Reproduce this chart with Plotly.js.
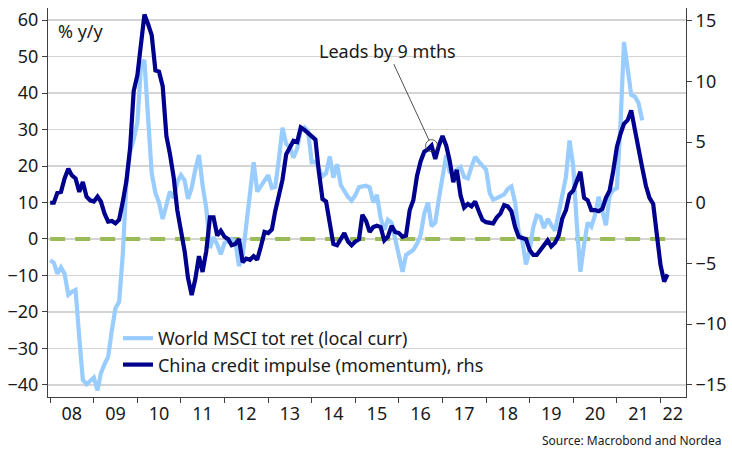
<!DOCTYPE html>
<html>
<head>
<meta charset="utf-8">
<script src="https://cdn.plot.ly/plotly-3.0.1.min.js"></script>
<style>
html,body{margin:0;padding:0;background:#fff;}
#chart{width:732px;height:463px;}
</style>
</head>
<body>
<div id="chart"></div>
<script>
// ---- data (monthly) ----
const worldStart = '2008-01';
const chinaStart = '2008-01';

// World MSCI tot ret (local curr), % y/y, lhs
const worldMsci = [
 -5.8, -6.5, -9.5, -7.8, -9.5, -15.3, -14.5, -14, -27, -38.6,
 -39.8, -39, -38, -41.5, -36.8, -34.3, -32.3, -25, -19, -17.2,
 -4, 15.3, 24, 27.3, 32, 48, 49, 33, 18, 12.6,
 10, 5.5, 9.5, 13, 11.2, 15.6, 17.5, 16, 11, 14,
 19, 23, 14.8, 8.5, -2.5, 0.5, -1.5, -4.2, -1.1, -0.6,
 0, -0.8, -7.4, -4.7, 4, 13.5, 21, 13, 14.6, 16.1,
 17.5, 14, 14.3, 22, 30.5, 26, 25.2, 22.3, 24.8, 29.8,
 30.6, 29.5, 21, 21.2, 19, 17.2, 18, 22.6, 16.8, 20.5,
 14.8, 13, 11.5, 10.5, 12, 14.2, 14.4, 14.6, 14.1, 10,
 12.1, 5.8, 2.5, 5.3, 4.5, 0.2, -5.3, -9, -4.4, -3.8,
 -3, -1.3, 1, 7, 10, 3.5, 4.5, 11, 18, 23,
 18.5, 18.2, 19, 19.7, 17, 16.6, 19.8, 22.5, 21.2, 20,
 19, 12.5, 10.8, 11.2, 11.7, 12.2, 13.7, 14.4, 10, 1.9,
 -0.5, -7, -3, 3.3, 6.4, 6, 3, 5.5, 3.8, 2.3,
 7, 12.6, 17, 27, 20, 3.5, -9, -1.5, 4.5, 3.4,
 6.5, 11.6, 7, 3.8, 12, 13.4, 14, 32, 54, 47,
 39.5, 39, 37.3, 32.5
];

// China credit impulse (momentum), rhs
const chinaImpulse = [
 0.0, 0.0, 0.8, 0.9, 2.0, 2.8, 2.25, 2.0, 0.9, 1.7,
 0.5, 0.2, 0.1, 0.5, 0.1, -0.9, -1.55, -1.5, -1.7, -1.4,
 0.1, 1.8, 4.5, 9.2, 10.5, 13.5, 15.5, 14.7, 13.8, 10.9,
 10.8, 9.6, 5.5, 4.0, 2.1, -0.6, -2.2, -4.0, -6.2, -7.6,
 -6.3, -4.4, -5.7, -4.0, -1.2, -1.2, -2.7, -2.3, -2.8, -3.0,
 -3.5, -3.4, -3.0, -4.9, -4.6, -4.7, -4.4, -4.7, -3.6, -2.4,
 -2.5, -2.2, -0.7, 0.8, 1.9, 4.0, 4.5, 5.1, 5.0, 6.2,
 6.0, 5.7, 5.5, 5.2, 2.6, 0.3, 0.1, -1.7, -3.4, -3.5,
 -2.9, -2.5, -3.2, -3.5, -3.2, -3.0, -1.0, -1.5, -2.4, -2.0,
 -1.9, -2.0, -3.1, -2.8, -1.9, -2.4, -2.5, -2.8, -2.7, -0.6,
 0.2, 2.2, 3.4, 4.2, 4.4, 4.7, 3.6, 4.7, 5.5, 4.7,
 3.5, 1.7, 2.7, 0.6, -0.4, -0.1, -0.3, 0.1, -0.7, -1.4,
 -1.6, -1.7, -1.7, -1.2, -0.9, -0.2, -0.3, -0.7, -2.0, -2.8,
 -2.9, -3.0, -3.9, -4.3, -4.3, -3.9, -3.4, -3.1, -3.6, -3.3,
 -2.7, -1.3, -0.6, 0.7, 1.0, 1.9, 2.55, 0.4, 0.2, -0.6,
 -0.6, -0.7, -0.5, 0.4, 1.0, 2.6, 4.6, 5.7, 6.5, 6.8,
 7.6, 6.0, 4.3, 2.9, 1.4, 0.4, -0.1, -2.6, -5.1, -6.5,
 -5.9
];

const yearLabels = ['08','09','10','11','12','13','14','15','16','17','18','19','20','21','22'];
const leftTicks = [-40, -30, -20, -10, 0, 10, 20, 30, 40, 50, 60];
const rightTicks = [-15, -10, -5, 0, 5, 10, 15];
const leadMonth = '2016-10-01';   // point marked "Leads by 9 mths"
const leadValue = 4.7;

// ---- helpers ----
function monthDates(start, n) {
  const [y0, m0] = start.split('-').map(Number);
  const out = [];
  for (let i = 0; i < n; i++) {
    const t = (m0 - 1) + i;
    const y = y0 + Math.floor(t / 12);
    const m = (t % 12) + 1;
    out.push(y + '-' + String(m).padStart(2, '0') + '-01');
  }
  return out;
}
const worldDates = monthDates(worldStart, worldMsci.length);
const chinaDates = monthDates(chinaStart, chinaImpulse.length);

// tick label positions: middle of each year (last one nudged in, as in the source)
const labelVals = yearLabels.map((l, i) => {
  const yr = 2008 + i;
  return i === yearLabels.length - 1 ? yr + '-04-15' : yr + '-07-01';
});

const FONT = 'Noto Sans, Open Sans, sans-serif';
const TXT = '#1a1a1a';
const AX = '#404040';
const FS = 18;

const traces = [
  {
    x: worldDates, y: worldMsci, type: 'scatter', mode: 'lines',
    name: 'World MSCI tot ret (local curr)',
    line: {color: '#99CCFF', width: 4.2},
    yaxis: 'y'
  },
  {
    x: chinaDates, y: chinaImpulse, type: 'scatter', mode: 'lines',
    name: 'China credit impulse (momentum), rhs',
    line: {color: '#00008F', width: 4.2},
    yaxis: 'y2'
  }
];

const layout = {
  width: 732, height: 463,
  margin: {l: 48, r: 46, t: 8, b: 66},
  paper_bgcolor: '#fff', plot_bgcolor: '#fff',
  font: {family: FONT, size: FS, color: TXT},
  showlegend: true,
  legend: {
    x: 0.1097, xanchor: 'left', y: 0.198, yanchor: 'top',
    bgcolor: 'rgba(0,0,0,0)', borderwidth: 0,
    font: {family: FONT, size: FS, color: TXT},
    tracegroupgap: 0
  },
  xaxis: {
    type: 'date',
    range: ['2007-12-14', '2022-08-03'],
    tickmode: 'array', tickvals: labelVals, ticktext: yearLabels,
    ticks: '', showgrid: false, zeroline: false,
    showline: true, linecolor: AX, linewidth: 1,
    tickfont: {family: FONT, size: FS, color: TXT},
    minor: {ticks: 'outside', ticklen: 5, tickcolor: AX, tickwidth: 1,
            tick0: '2008-01-01', dtick: 'M12', showgrid: false}
  },
  yaxis: {
    range: [-43.3, 63.3],
    tickmode: 'array', tickvals: leftTicks,
    ticks: 'outside', ticklen: 5, tickcolor: AX,
    showline: true, linecolor: AX, linewidth: 1,
    showgrid: true, gridcolor: '#d4d4d4', gridwidth: 1.3,
    zeroline: false,
    tickfont: {family: FONT, size: FS, color: TXT}
  },
  yaxis2: {
    range: [-16.0, 16.04],
    overlaying: 'y', side: 'right',
    tickmode: 'array', tickvals: rightTicks,
    ticks: 'outside', ticklen: 5, tickcolor: AX,
    showline: true, linecolor: AX, linewidth: 1,
    showgrid: false, zeroline: false,
    tickfont: {family: FONT, size: FS, color: TXT}
  },
  shapes: [
    {
      type: 'line', xref: 'x', yref: 'y', layer: 'between',
      x0: worldDates[0], x1: chinaDates[chinaDates.length - 1], y0: 0, y1: 0,
      line: {color: '#9BBB59', width: 4, dash: '15px,10px'}
    },
    {
      type: 'circle', xref: 'x', yref: 'y2',
      xsizemode: 'pixel', ysizemode: 'pixel',
      xanchor: leadMonth, yanchor: leadValue,
      x0: -6, x1: 6, y0: -6, y1: 6,
      line: {color: '#333', width: 0.8}, fillcolor: 'rgba(0,0,0,0)'
    }
  ],
  annotations: [
    {
      xref: 'paper', yref: 'paper', x: 0.012, y: 0.94,
      xanchor: 'left', yanchor: 'middle', showarrow: false,
      text: '% y/y', font: {family: FONT, size: FS, color: TXT}
    },
    {
      xref: 'x', yref: 'y2', x: leadMonth, y: leadValue,
      text: 'Leads by 9 mths', showarrow: true,
      arrowhead: 0, arrowwidth: 0.8, arrowcolor: '#222',
      ax: -44, ay: -95, standoff: 6,
      font: {family: FONT, size: FS, color: TXT}
    },
    {
      xref: 'paper', yref: 'paper', x: 1.058, y: -0.113,
      xanchor: 'right', yanchor: 'middle', showarrow: false,
      text: 'Source: Macrobond and Nordea',
      font: {family: FONT, size: 12, color: TXT}
    }
  ]
};

Plotly.newPlot('chart', traces, layout, {staticPlot: true, displayModeBar: false});
</script>
</body>
</html>
